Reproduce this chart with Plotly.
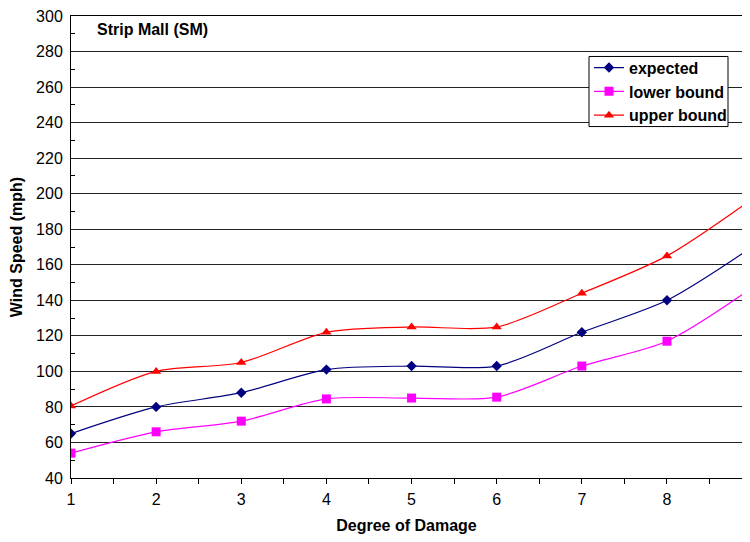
import plotly.graph_objects as go

degree = [1, 2, 3, 4, 5, 6, 7, 8, 9]
expected = [65, 80, 88, 101, 103, 103, 122, 140, 170]
lower_bound = [54, 66, 72, 84.5, 85, 85.5, 103, 117, 147]
upper_bound = [80.5, 100, 105, 122, 125, 125, 144, 165, 197]

FONT = "Liberation Sans, Arial, sans-serif"
FS = 16
PLOT_W = 671.0   # plot-area width in px
PX_PER_UNIT = 85.14

fig = go.Figure()
fig.add_trace(go.Scatter(x=degree, y=expected, name="expected", mode="lines+markers",
                         legendgroup="a",
                         line=dict(color="#000080", width=1.2, shape="spline", smoothing=0.8),
                         marker=dict(symbol="diamond", size=8, color="#000080")))
fig.add_trace(go.Scatter(x=degree, y=lower_bound, name="lower bound", mode="lines+markers",
                         legendgroup="b",
                         line=dict(color="#FF00FF", width=1.2, shape="spline", smoothing=0.8),
                         marker=dict(symbol="square", size=9, color="#FF00FF")))
fig.add_trace(go.Scatter(x=degree, y=upper_bound, name="upper bound", mode="lines+markers",
                         legendgroup="c",
                         line=dict(color="#FF0000", width=1.2, shape="spline", smoothing=0.8),
                         marker=dict(symbol="triangle-up", size=9, color="#FF0000")))

fig.update_layout(
    width=734, height=526,
    margin=dict(l=63, r=0, t=6, b=52),
    paper_bgcolor="white", plot_bgcolor="white",
    font=dict(family=FONT, size=FS, color="black"),
    showlegend=True,
    legend=dict(x=(589 - 71) / PLOT_W, y=0.925, xanchor="left", yanchor="top",
                bgcolor="rgba(0,0,0,0)", borderwidth=0,
                font=dict(family=FONT, size=FS, color="black", weight="bold"),
                tracegroupgap=0),
    xaxis=dict(range=[1, 1 + PLOT_W / PX_PER_UNIT], tickvals=degree, showgrid=False, zeroline=False,
               showline=True, linecolor="black", linewidth=1, mirror=True,
               ticks="outside", ticklen=5, tickcolor="black", ticklabelstandoff=2,
               minor=dict(dtick=0.5, tick0=0.5, ticks="outside", ticklen=5, tickcolor="black"),
               tickfont=dict(size=FS),
               title=dict(text="Degree of Damage", font=dict(size=FS, weight="bold"), standoff=15)),
    yaxis=dict(range=[40, 300], dtick=20, showgrid=True, gridcolor="#222222", gridwidth=1,
               zeroline=False, showline=True, linecolor="black", linewidth=1,
               ticks="", tickfont=dict(size=FS), ticklabelstandoff=4, ticklabeloverflow="allow",
               minor=dict(dtick=10, ticks="inside", ticklen=4, tickcolor="black", showgrid=False),
               title=dict(text="Wind Speed (mph)", font=dict(size=FS, weight="bold"), standoff=10)),
    shapes=[
        dict(type="rect", xref="paper", yref="paper",
             x0=(589 - 71) / PLOT_W, x1=(728 - 71) / PLOT_W, y0=0.7607, y1=0.9124,
             fillcolor="white", line=dict(color="black", width=1), layer="above"),
    ],
    annotations=[
        dict(text="Strip Mall (SM)", xref="paper", yref="paper", x=24 / PLOT_W, y=0.97,
             xanchor="left", yanchor="middle", showarrow=False,
             font=dict(family=FONT, size=FS, weight="bold")),
    ],
)

fig.write_html("out.html")
